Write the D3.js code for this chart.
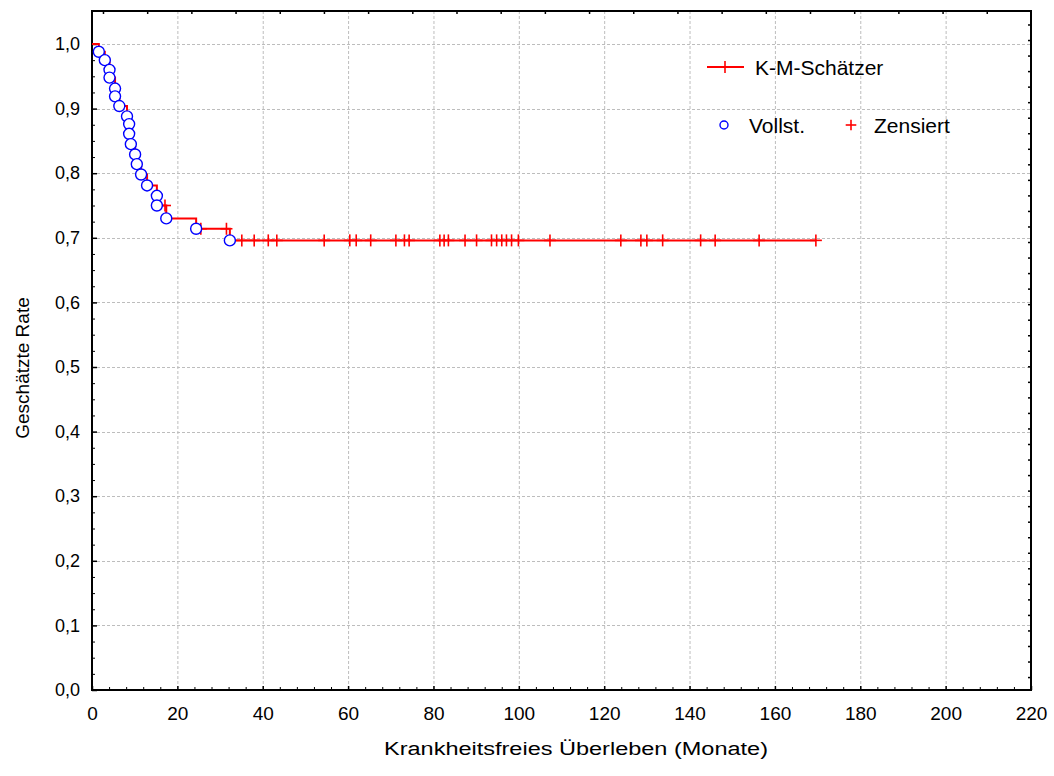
<!DOCTYPE html>
<html>
<head>
<meta charset="utf-8">
<script src="https://cdn.jsdelivr.net/npm/d3@7/dist/d3.min.js"></script>
<style>
  body { margin: 0; background: #fff; }
  text { font-family: "Liberation Sans", Arial, sans-serif; fill: #000; }
</style>
</head>
<body>
<svg id="chart" width="1054" height="776"></svg>
<script>
// Kaplan-Meier estimate: event (complete) times in months and the estimated rate after each event
const eventMonths = [1.6, 3.0, 4.1, 4.1, 5.4, 5.4, 6.4, 8.2, 8.7, 8.7, 9.1, 10.1, 10.5, 11.5, 12.9, 15.2, 15.2, 17.4, 24.4, 32.3];
const eventRates  = [0.988, 0.975, 0.960, 0.948, 0.931, 0.919, 0.904, 0.888, 0.876, 0.861, 0.845, 0.829, 0.814, 0.798, 0.781, 0.765, 0.750, 0.730, 0.714, 0.696];

// Censored observations (months)
const censoredMonths = [17.1, 25.5, 31.5, 35.1, 38.0, 41.3, 43.3, 54.4, 60.4, 61.9, 65.3, 71.2, 73.2, 74.3,
  81.5, 82.5, 83.5, 87.4, 90.1, 93.6, 94.8, 96.0, 97.1, 98.3, 99.9, 107.3, 123.9, 128.6, 130.0, 133.7,
  142.6, 146.0, 156.3, 169.6];

const xTickValues = d3.range(0, 221, 20);
const yTickValues = d3.range(0, 11).map(i => i / 10);

const xTitle = "Krankheitsfreies Überleben (Monate)";
const yTitle = "Geschätzte Rate";
const legendLine = "K-M-Schätzer";
const legendComplete = "Vollst.";
const legendCensored = "Zensiert";

const W = 1054, H = 776;
const margin = { left: 92, right: 23, top: 11, bottom: 86 };
const svg = d3.select("#chart");

const x = d3.scaleLinear().domain([0, 220]).range([margin.left, W - margin.right]);
const y = d3.scaleLinear().domain([0, 1.05]).range([H - margin.bottom, H - margin.bottom - 646 * 1.05]);

const x0 = x(0), x1 = x(220), yB = y(0), yT = margin.top;
const red = "#ff0000", blue = "#0000ff";
const fmt = v => d3.format(".1f")(v).replace(".", ",");

// grid
const grid = svg.append("g").attr("stroke", "#bdbdbd").attr("stroke-width", 1).attr("stroke-dasharray", "3,2");
grid.selectAll("line.gx").data(xTickValues.filter(v => v > 0 && v < 220)).join("line")
  .attr("x1", d => x(d) + 0.5).attr("x2", d => x(d) + 0.5).attr("y1", yT).attr("y2", yB);
grid.selectAll("line.gy").data(yTickValues.filter(v => v > 0)).join("line")
  .attr("y1", d => Math.round(y(d)) + 0.5).attr("y2", d => Math.round(y(d)) + 0.5).attr("x1", x0).attr("x2", x1);

// axes with inward ticks
const xAxis = d3.axisBottom(x).tickValues(xTickValues).tickSize(-4).tickPadding(10).tickFormat(d3.format("d"));
const gx = svg.append("g").attr("transform", `translate(0,${yB})`).call(xAxis);
gx.select(".domain").remove();
gx.selectAll("text").attr("font-size", 19).attr("dy", "1.06em");
gx.selectAll("line").attr("stroke-width", 1.5);

const xMinor = d3.axisBottom(x).tickValues(d3.range(0, 221, 4).filter(v => v % 20)).tickSize(-3).tickFormat("");
const gxm = svg.append("g").attr("transform", `translate(0,${yB})`).call(xMinor);
gxm.select(".domain").remove();

const yAxis = d3.axisLeft(y).tickValues(yTickValues).tickSize(-5).tickPadding(12).tickFormat(fmt);
const gy = svg.append("g").attr("transform", `translate(${x0},0)`).call(yAxis);
gy.select(".domain").remove();
gy.selectAll("text").attr("font-size", 18);
gy.selectAll("line").attr("stroke-width", 1.5);

const yMinor = d3.axisLeft(y).tickValues(d3.range(0, 41).map(i => i / 40).filter((v, i) => i % 4)).tickSize(-3).tickFormat("");
const gym = svg.append("g").attr("transform", `translate(${x0},0)`).call(yMinor);
gym.select(".domain").remove();

// secondary (top / right) axis ticks
const topScale = d3.scaleLinear().domain([0, 21.25]).range([x0, x1]);
svg.append("g").selectAll("line").data(d3.range(0.26, 21.2, 1)).join("line")
  .attr("x1", d => topScale(d)).attr("x2", d => topScale(d)).attr("y1", yT).attr("y2", yT + 3)
  .attr("stroke", "#000").attr("stroke-width", 1.5);
const rightScale = d3.scaleLinear().domain([0, 43.7]).range([yT, yB]);
svg.append("g").selectAll("line").data(d3.range(0.9, 43.5, 1)).join("line")
  .attr("y1", d => rightScale(d)).attr("y2", d => rightScale(d)).attr("x1", x1).attr("x2", x1 - 3)
  .attr("stroke", "#000").attr("stroke-width", 1.5);

// frame
svg.append("rect").attr("x", x0).attr("y", yT).attr("width", x1 - x0).attr("height", yB - yT)
  .attr("fill", "none").attr("stroke", "#000").attr("stroke-width", 2);

// step curve
const lastCensor = d3.max(censoredMonths);
const pts = [[0, 1]].concat(eventMonths.map((t, i) => [t, eventRates[i]]));
pts.push([lastCensor, eventRates[eventRates.length - 1]]);
const step = d3.line().x(d => x(d[0])).y(d => y(d[1])).curve(d3.curveStepAfter);
svg.append("path").attr("d", step(pts)).attr("fill", "none").attr("stroke", red).attr("stroke-width", 2);

function rateAt(t) {
  let r = 1;
  eventMonths.forEach((e, i) => { if (e <= t) r = eventRates[i]; });
  return r;
}

function cross(g, cx, cy, h) {
  g.append("line").attr("x1", cx - h).attr("x2", cx + h).attr("y1", cy).attr("y2", cy);
  g.append("line").attr("x1", cx).attr("x2", cx).attr("y1", cy - h).attr("y2", cy + h);
}

// censored marks
const cg = svg.append("g").attr("stroke", red).attr("stroke-width", 1.6);
censoredMonths.forEach(t => cross(cg, x(t), y(rateAt(t)), 6));

// complete (event) marks
svg.append("g").selectAll("circle").data(eventMonths.map((t, i) => [t, eventRates[i]])).join("circle")
  .attr("cx", d => x(d[0])).attr("cy", d => y(d[1])).attr("r", 5.5)
  .attr("fill", "#fff").attr("stroke", blue).attr("stroke-width", 1.4);

// legend
const lg = svg.append("g");
lg.append("line").attr("x1", 707).attr("x2", 744).attr("y1", 67).attr("y2", 67).attr("stroke", red).attr("stroke-width", 2);
const lc = lg.append("g").attr("stroke", red).attr("stroke-width", 1.6);
cross(lc, 725, 67, 6);
lg.append("text").attr("x", 755).attr("y", 75).attr("font-size", 21).text(legendLine);
lg.append("circle").attr("cx", 724).attr("cy", 125).attr("r", 4).attr("fill", "#fff").attr("stroke", blue).attr("stroke-width", 1.4);
lg.append("text").attr("x", 749).attr("y", 133).attr("font-size", 21).text(legendComplete);
const lz = lg.append("g").attr("stroke", red).attr("stroke-width", 1.6);
cross(lz, 851, 125, 5.3);
lg.append("text").attr("x", 874).attr("y", 133).attr("font-size", 21).text(legendCensored);

// axis titles
svg.append("text").attr("x", 576).attr("y", 755).attr("text-anchor", "middle").attr("font-size", 18)
  .attr("textLength", 384).attr("lengthAdjust", "spacingAndGlyphs").text(xTitle);
svg.append("text").attr("transform", "translate(29,368) rotate(-90)").attr("text-anchor", "middle")
  .attr("font-size", 19).text(yTitle);
</script>
</body>
</html>
